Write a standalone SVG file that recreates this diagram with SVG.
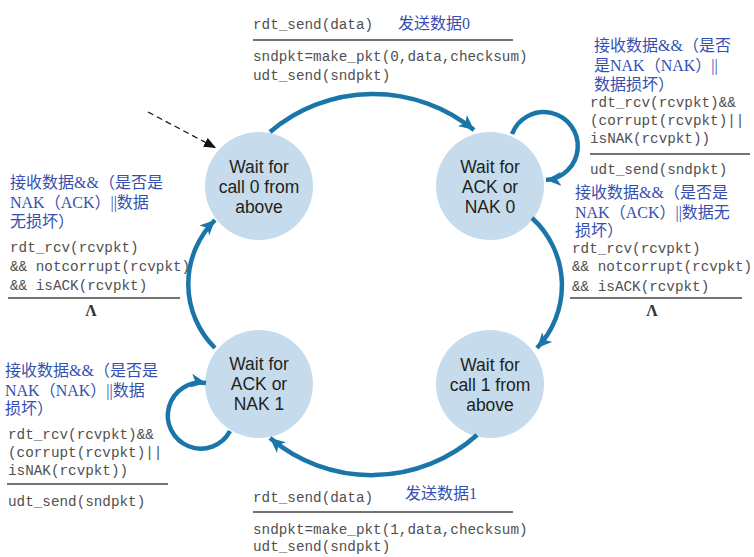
<svg xmlns="http://www.w3.org/2000/svg" width="754" height="557" viewBox="0 0 754 557">
<style>
.node{fill:#c6dcec;}
.nt{font-family:"Liberation Sans",Arial,sans-serif;font-size:17.5px;fill:#231f20;text-anchor:middle;}
.mono{font-family:"Liberation Mono","DejaVu Sans Mono",monospace;font-size:14.3px;fill:#505050;}
.cn{font-family:"Liberation Serif","Noto Sans CJK SC",serif;font-size:16px;fill:#3550b0;}
.rule{stroke:#444;stroke-width:1.6;fill:none;}
.lam{font-family:"Liberation Serif",serif;font-size:16px;fill:#333;text-anchor:middle;font-weight:bold;}
.arc{fill:none;stroke:#1a75a9;stroke-width:4.5;}
</style>
<defs>
<marker id="ah" markerUnits="userSpaceOnUse" markerWidth="18" markerHeight="16" refX="15" refY="7" orient="auto">
<path d="M0,0 L15,7 L0,14 L4,7 Z" fill="#1a75a9"/>
</marker>
<marker id="ahk" markerUnits="userSpaceOnUse" markerWidth="14" markerHeight="12" refX="12" refY="5" orient="auto">
<path d="M0,0 L12,5 L0,10 Z" fill="#111"/>
</marker>
</defs>

<g id="s0">
<circle class="node" cx="259" cy="186" r="54"/>
<text class="nt" x="259" y="173">Wait for</text>
<text class="nt" x="259" y="193">call 0 from</text>
<text class="nt" x="259" y="213">above</text>
</g>
<g id="s1">
<circle class="node" cx="490" cy="186" r="54"/>
<text class="nt" x="490" y="173">Wait for</text>
<text class="nt" x="490" y="193">ACK or</text>
<text class="nt" x="490" y="213">NAK 0</text>
</g>
<g id="s2">
<circle class="node" cx="490" cy="384" r="54"/>
<text class="nt" x="490" y="371">Wait for</text>
<text class="nt" x="490" y="391">call 1 from</text>
<text class="nt" x="490" y="411">above</text>
</g>
<g id="s3">
<circle class="node" cx="259" cy="384" r="54"/>
<text class="nt" x="259" y="370">Wait for</text>
<text class="nt" x="259" y="390">ACK or</text>
<text class="nt" x="259" y="410">NAK 1</text>
</g>

<g id="connectors">
<line x1="148" y1="112" x2="216" y2="148" stroke="#111" stroke-width="1.2" stroke-dasharray="6,4" marker-end="url(#ahk)"/>
<path class="arc" d="M270,132 A159,159 0 0 1 474,130" marker-end="url(#ah)"/>
<path class="arc" d="M532,218 A91,91 0 0 1 537,348" marker-end="url(#ah)"/>
<path class="arc" d="M477,435 A158,158 0 0 1 270,438" marker-end="url(#ah)"/>
<path class="arc" d="M215,348 A90,90 0 0 1 215,220" marker-end="url(#ah)"/>
<path class="arc" d="M512,134 A34,34 0 1 1 546,180" marker-end="url(#ah)"/>
<path class="arc" d="M230,431 A33,33 0 1 1 206,383" marker-end="url(#ah)"/>
</g>

<g id="label-top">
<text class="mono" x="253" y="29">rdt_send(data)</text>
<text class="cn" x="398" y="29">发送数据0</text>
<line class="rule" x1="253" y1="40" x2="513" y2="40"/>
<text class="mono" x="253" y="61">sndpkt=make_pkt(0,data,checksum)</text>
<text class="mono" x="253" y="80">udt_send(sndpkt)</text>
</g>

<g id="label-topright">
<text class="cn" x="594" y="51">接收数据&amp;&amp;（是否</text>
<text class="cn" x="594" y="71">是NAK（NAK）||</text>
<text class="cn" x="594" y="90">数据损坏）</text>
<text class="mono" x="590" y="107">rdt_rcv(rcvpkt)&amp;&amp;</text>
<text class="mono" x="590" y="125">(corrupt(rcvpkt)||</text>
<text class="mono" x="590" y="143">isNAK(rcvpkt))</text>
<line class="rule" x1="590" y1="154" x2="750" y2="154"/>
<text class="mono" x="590" y="174">udt_send(sndpkt)</text>
</g>

<g id="label-right">
<text class="cn" x="575" y="198">接收数据&amp;&amp;（是否是</text>
<text class="cn" x="575" y="218">NAK（ACK）||数据无</text>
<text class="cn" x="575" y="236">损坏）</text>
<text class="mono" x="572" y="253">rdt_rcv(rcvpkt)</text>
<text class="mono" x="572" y="271">&amp;&amp; notcorrupt(rcvpkt)</text>
<text class="mono" x="572" y="291">&amp;&amp; isACK(rcvpkt)</text>
<line class="rule" x1="570" y1="298" x2="742" y2="298"/>
<text class="lam" x="652" y="316">Λ</text>
</g>

<g id="label-left">
<text class="cn" x="10" y="188">接收数据&amp;&amp;（是否是</text>
<text class="cn" x="10" y="208">NAK（ACK）||数据</text>
<text class="cn" x="10" y="227">无损坏）</text>
<text class="mono" x="10" y="252">rdt_rcv(rcvpkt)</text>
<text class="mono" x="10" y="271">&amp;&amp; notcorrupt(rcvpkt)</text>
<text class="mono" x="10" y="290">&amp;&amp; isACK(rcvpkt)</text>
<line class="rule" x1="8" y1="298" x2="180" y2="298"/>
<text class="lam" x="91" y="316">Λ</text>
</g>

<g id="label-bottomleft">
<text class="cn" x="5" y="376">接收数据&amp;&amp;（是否是</text>
<text class="cn" x="5" y="396">NAK（NAK）||数据</text>
<text class="cn" x="5" y="414">损坏）</text>
<text class="mono" x="8" y="439">rdt_rcv(rcvpkt)&amp;&amp;</text>
<text class="mono" x="8" y="457">(corrupt(rcvpkt)||</text>
<text class="mono" x="8" y="475">isNAK(rcvpkt))</text>
<line class="rule" x1="7" y1="484" x2="168" y2="484"/>
<text class="mono" x="8" y="506">udt_send(sndpkt)</text>
</g>

<g id="label-bottom">
<text class="mono" x="253" y="502">rdt_send(data)</text>
<text class="cn" x="405" y="499">发送数据1</text>
<line class="rule" x1="253" y1="512" x2="513" y2="512"/>
<text class="mono" x="253" y="534">sndpkt=make_pkt(1,data,checksum)</text>
<text class="mono" x="253" y="551">udt_send(sndpkt)</text>
</g>
</svg>
